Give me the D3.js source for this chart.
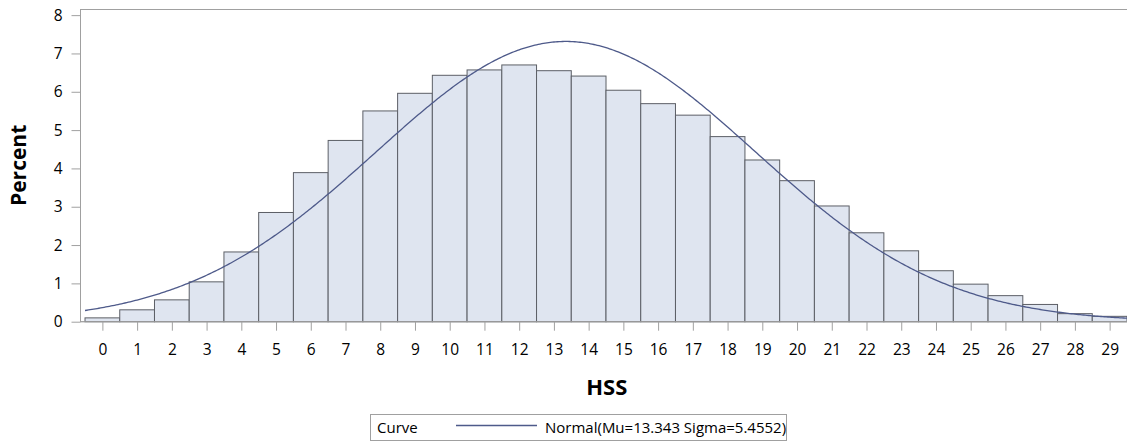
<!DOCTYPE html>
<html>
<head>
<meta charset="utf-8">
<script src="https://cdn.jsdelivr.net/npm/d3@7"></script>
<style>
  html, body { margin: 0; padding: 0; background: #fff; }
  svg { display: block; }
  text { font-family: "Open Sans", "Liberation Sans", Arial, sans-serif; fill: #000; }
</style>
</head>
<body>
<svg id="chart" width="1127" height="443"></svg>
<script>
// ---- data ----
const hssValues = [0,1,2,3,4,5,6,7,8,9,10,11,12,13,14,15,16,17,18,19,20,21,22,23,24,25,26,27,28,29];
const percentValues = [0.10,0.31,0.57,1.04,1.82,2.85,3.89,4.73,5.50,5.96,6.43,6.57,6.70,6.55,6.41,6.04,5.69,5.39,4.83,4.22,3.68,3.02,2.32,1.85,1.33,0.98,0.68,0.45,0.21,0.14];
const yTickValues = [0,1,2,3,4,5,6,7,8];
const normalMu = 13.343;
const normalSigma = 5.4552;
const legendTitle = "Curve";
const legendLabel = "Normal(Mu=13.343 Sigma=5.4552)";
const xTitle = "HSS";
const yTitle = "Percent";

// ---- layout ----
const FONT = "'Open Sans', 'Liberation Sans', Arial, sans-serif";
const TITLE_FONT = "'Open Sans', 'DejaVu Sans', sans-serif";
const svg = d3.select("#chart");
const pLeft = 80.5, pRight = 1127, pTop = 9, pBottom = 321.7;
const x = d3.scaleLinear().domain([-0.63, 29.5]).range([pLeft, pRight]);
const y = d3.scaleLinear().domain([0, 8.16]).range([pBottom, pTop]);

// frame
svg.append("rect")
  .attr("x", pLeft).attr("y", pTop + 0.5)
  .attr("width", pRight - pLeft + 5).attr("height", pBottom - pTop - 0.5)
  .attr("fill", "none").attr("stroke", "#a0a0a0").attr("stroke-width", 1);

// bars
svg.append("g").selectAll("rect")
  .data(hssValues.map((h, i) => ({h, v: percentValues[i]})))
  .join("rect")
  .attr("x", d => x(d.h - 0.5))
  .attr("y", d => y(d.v))
  .attr("width", d => x(d.h + 0.5) - x(d.h - 0.5))
  .attr("height", d => y(0) - y(d.v))
  .attr("fill", "#dfe5f0")
  .attr("stroke", "#5c5f66")
  .attr("stroke-width", 1);

// normal curve (percent per unit bin)
const pdf = t => 100 / (normalSigma * Math.sqrt(2 * Math.PI)) * Math.exp(-0.5 * Math.pow((t - normalMu) / normalSigma, 2));
const curveX = d3.range(-0.5, 29.5001, 0.05);
svg.append("path")
  .datum(curveX)
  .attr("fill", "none")
  .attr("stroke", "#4e5a8a")
  .attr("stroke-width", 1.3)
  .attr("d", d3.line().x(t => x(t)).y(t => y(pdf(t))));

// axes
const xAxis = d3.axisBottom(x).tickValues(hssValues).tickSize(9).tickPadding(13).tickFormat(d3.format("d"));
const gx = svg.append("g").attr("transform", `translate(0,${pBottom})`).call(xAxis);
gx.select(".domain").attr("stroke", "#a0a0a0").attr("d", `M${pLeft},0H${pRight}`);
gx.selectAll(".tick line").attr("stroke", "#a0a0a0");
gx.selectAll(".tick text").attr("font-size", 15.5).attr("font-family", FONT).attr("fill", "#000");

const yAxis = d3.axisLeft(y).tickValues(yTickValues).tickSize(9).tickPadding(9).tickFormat(d3.format("d"));
const gy = svg.append("g").attr("transform", `translate(${pLeft},0)`).call(yAxis);
gy.select(".domain").attr("stroke", "#a0a0a0").attr("d", `M0,${pTop}V${pBottom}`);
gy.selectAll(".tick line").attr("stroke", "#a0a0a0");
gy.selectAll(".tick text").attr("font-size", 15.5).attr("font-family", FONT).attr("fill", "#000");

// titles
svg.append("text")
  .attr("x", (pLeft + pRight) / 2 + 3).attr("y", 395)
  .attr("text-anchor", "middle").attr("font-size", 22).attr("font-weight", "bold")
  .attr("font-family", TITLE_FONT)
  .text(xTitle);
svg.append("text")
  .attr("transform", `translate(26,${(pTop + pBottom) / 2}) rotate(-90)`)
  .attr("text-anchor", "middle").attr("font-size", 21).attr("font-weight", "bold")
  .attr("font-family", TITLE_FONT)
  .text(yTitle);

// legend
const lg = svg.append("g");
lg.append("rect").attr("x", 370.5).attr("y", 414.5).attr("width", 416).attr("height", 26)
  .attr("fill", "#fff").attr("stroke", "#a0a0a0");
lg.append("text").attr("x", 377).attr("y", 433).attr("font-size", 15).attr("font-family", FONT).text(legendTitle);
lg.append("line").attr("x1", 456).attr("x2", 537).attr("y1", 425.5).attr("y2", 425.5)
  .attr("stroke", "#4e5a8a").attr("stroke-width", 1.3);
lg.append("text").attr("x", 545).attr("y", 433).attr("font-size", 15).attr("font-family", FONT).text(legendLabel);
</script>
</body>
</html>
